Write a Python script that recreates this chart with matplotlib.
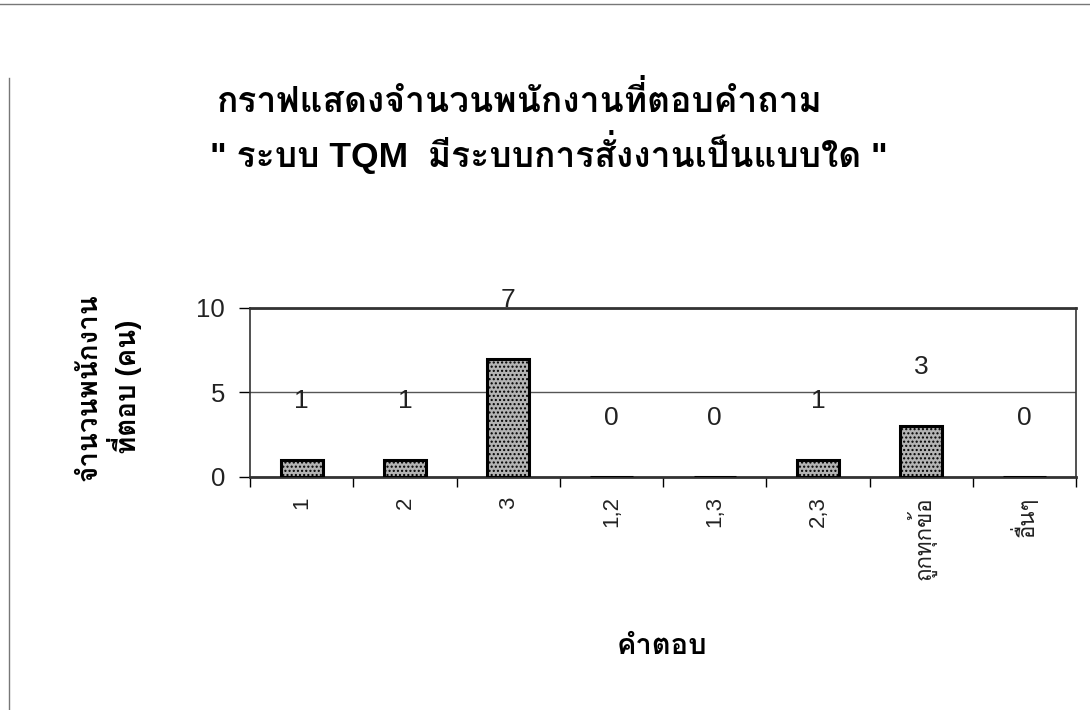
import matplotlib
matplotlib.use("Agg")
import matplotlib.pyplot as plt
from matplotlib import font_manager
from matplotlib.ft2font import FT2Font
import numpy as np

answers = ["1", "2", "3", "1,2", "1,3", "2,3", "ถูกทุกข้อ", "อื่นๆ"]
counts = [1, 1, 7, 0, 0, 1, 3, 0]
y_ticks = [0, 5, 10]

title_1 = "กราฟแสดงจำนวนพนักงานที่ตอบคำถาม"
title_2 = '" ระบบ TQM  มีระบบการสั่งงานเป็นแบบใด "'
y_title = "จำนวนพนักงาน\nที่ตอบ (คน)"
x_title = "คำตอบ"


def thai_families():
    # look through installed fonts for any that carry Thai glyphs
    found = []
    for f in font_manager.fontManager.ttflist:
        try:
            if 0x0E01 in FT2Font(f.fname).get_charmap():
                if f.name not in found:
                    found.append(f.name)
        except Exception:
            pass
    return found


thai = thai_families()
fam = ["Liberation Sans"] + thai + ["DejaVu Sans"]
plt.rcParams["font.family"] = fam
plt.rcParams["hatch.color"] = "#6e6e6e"

fig = plt.figure(figsize=(10.9, 7.1), dpi=100)
ax = fig.add_axes([0.2294, 0.3282, 0.7578, 0.238])

x = np.arange(len(answers))
ax.bar(x, counts, width=0.41, color="#b4b4b4", edgecolor="black",
       linewidth=2.2, hatch="....", zorder=3)

for xi, c in zip(x, counts):
    ax.text(xi, c + 3.5, str(c), ha="center", va="center", fontsize=19,
            color="#222222")

ax.set_xlim(-0.5, len(answers) - 0.5)
ax.set_ylim(0, 10)
ax.set_yticks(y_ticks)
ax.tick_params(axis="y", labelsize=18.5, length=8, width=1, pad=10,
               labelcolor="#222222")
ax.yaxis.grid(True, color="#555555", linewidth=1)

ax.set_xticks(np.arange(-0.5, len(answers)), minor=False)
ax.set_xticklabels([])
ax.set_xticks(x, minor=True)
ax.set_xticklabels(answers, minor=True, rotation=90, fontsize=16, va="top",
                   color="#222222")
ax.tick_params(axis="x", which="major", length=7, width=1)
ax.tick_params(axis="x", which="minor", length=0, pad=14)

for s in ax.spines.values():
    s.set_color("#333333")
    s.set_linewidth(1.2)
ax.spines["top"].set_linewidth(2)
ax.spines["bottom"].set_linewidth(2)

fig.text(0.477, 0.859, title_1, ha="center", va="center", fontsize=25.5,
         fontweight="bold")
fig.text(0.504, 0.786, title_2, ha="center", va="center", fontsize=25.5,
         fontweight="bold")
fig.text(0.1, 0.455, y_title, ha="center", va="center", fontsize=20,
         fontweight="bold", rotation=90, linespacing=1.15,
         multialignment="center")
fig.text(0.607, 0.09, x_title, ha="center", va="center", fontsize=21,
         fontweight="bold")

# page frame lines along top and left edge
fig.add_artist(plt.Line2D([0, 1], [0.994, 0.994], color="#777777", lw=1))
fig.add_artist(plt.Line2D([0.008, 0.008], [0, 0.89], color="#777777", lw=1))

fig.savefig("out.png", dpi=100)
